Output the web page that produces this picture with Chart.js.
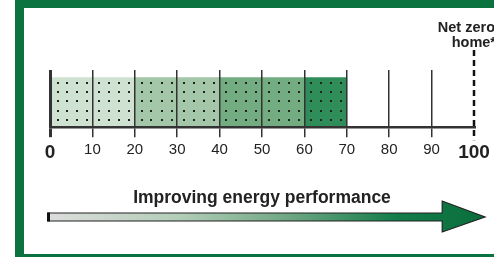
<!DOCTYPE html>
<html>
<head>
<meta charset="utf-8">
<script src="https://cdn.jsdelivr.net/npm/chart.js@4/dist/chart.umd.min.js"></script>
<style>
    html, body { margin: 0; padding: 0; background: #fff; }
    #page { position: relative; width: 494px; height: 259px; overflow: hidden; }
    #frame {
        position: absolute; left: 15px; top: 0; width: 520px; height: 246px;
        border-top: 8px solid #0b7340; border-left: 9px solid #0b7340; border-bottom: 3px solid #0b7340;
        background: #fff;
    }
    #wrap { position: absolute; left: 0; top: 0; width: 494px; height: 259px; }
</style>
</head>
<body>
<div id="page">
    <div id="frame"></div>
    <div id="wrap"><canvas id="ratingChart"></canvas></div>
</div>
<script>
// rating bands (score ranges) and their fill
const bandLabels = ['0-10', '10-20', '20-30', '30-40', '40-50', '50-60', '60-70'];
const bandStart = [0, 10, 20, 30, 40, 50, 60];
const bandEnd = [10, 20, 30, 40, 50, 60, 70];
const bandColors = ['#cfe1d1', '#cfe1d1', '#a3c7a8', '#a3c7a8', '#73ac80', '#73ac80', '#2f8d5a'];

const tickValues = [0, 10, 20, 30, 40, 50, 60, 70, 80, 90, 100];
const netZeroValue = 100;
const netZeroLabel = ['Net zero', 'home*'];
const arrowLabel = 'Improving energy performance';

const FONT = '"Liberation Sans", Arial, Helvetica, sans-serif';

// dotted texture + net zero marker + arrow
const extras = {
    id: 'extras',
    afterDatasetsDraw(chart) {
        const ctx = chart.ctx;
        const meta = chart.getDatasetMeta(0);
        ctx.save();
        ctx.fillStyle = '#222';
        meta.data.forEach(bar => {
            const p = bar.getProps(['x', 'base', 'y', 'height'], true);
            const left = Math.min(p.x, p.base), w = Math.abs(p.x - p.base);
            const top = p.y - p.height / 2;
            [0.16, 0.39, 0.63, 0.87].forEach(fx => {
                for (let r = 0; r < 5; r++) {
                    ctx.fillRect(Math.round(left + fx * w) - 1, Math.round(top + 4 + r * 9.3), 2, 2);
                }
            });
        });
        ctx.restore();
    },
    afterDraw(chart) {
        const ctx = chart.ctx;
        const xs = chart.scales.x;
        const area = chart.chartArea;
        ctx.save();

        // net zero dashed line
        const xn = xs.getPixelForValue(netZeroValue);
        ctx.strokeStyle = '#111';
        ctx.lineWidth = 2.5;
        ctx.setLineDash([6, 4]);
        ctx.beginPath();
        ctx.moveTo(xn, 50);
        ctx.lineTo(xn, area.bottom + 13);
        ctx.stroke();
        ctx.setLineDash([]);

        ctx.fillStyle = '#222';
        ctx.font = 'bold 14.5px ' + FONT;
        ctx.textAlign = 'right';
        ctx.textBaseline = 'alphabetic';
        ctx.fillText(netZeroLabel[0], 495, 32);
        ctx.fillText(netZeroLabel[1], 496, 47);

        // arrow caption
        ctx.textAlign = 'center';
        ctx.font = 'bold 17.5px ' + FONT;
        ctx.fillText(arrowLabel, 262, 202.5);

        // arrow
        const x0 = xs.getPixelForValue(0) - 2;
        const xh = xs.getPixelForValue(92.5);
        const xt = xs.getPixelForValue(100) + 11;
        const cy = 217;
        const g = ctx.createLinearGradient(x0, 0, xt, 0);
        g.addColorStop(0, '#dcdddc');
        g.addColorStop(0.3, '#b3cdb8');
        g.addColorStop(0.55, '#6fa783');
        g.addColorStop(0.8, '#127c4a');
        g.addColorStop(1, '#0a6e3b');
        ctx.beginPath();
        ctx.moveTo(x0, cy - 4);
        ctx.lineTo(xh, cy - 4);
        ctx.lineTo(xh, cy - 16);
        ctx.lineTo(xt, cy);
        ctx.lineTo(xh, cy + 15);
        ctx.lineTo(xh, cy + 4);
        ctx.lineTo(x0, cy + 4);
        ctx.closePath();
        ctx.fillStyle = g;
        ctx.fill();
        ctx.strokeStyle = '#222';
        ctx.lineWidth = 1.2;
        ctx.stroke();
        ctx.fillStyle = '#111';
        ctx.fillRect(x0 - 1, cy - 4.5, 3, 9);
        ctx.restore();
    }
};

new Chart(document.getElementById('ratingChart'), {
    type: 'bar',
    data: {
        labels: bandLabels,
        datasets: [{
            label: 'Rating',
            data: bandStart.map((s, i) => ({ x: [s, bandEnd[i]], y: 0.5 })),
            backgroundColor: bandColors,
            borderWidth: 0,
            barThickness: 48,
        }],
    },
    options: {
        indexAxis: 'y',
        responsive: true,
        maintainAspectRatio: false,
        animation: false,
        layout: {
            padding: { left: 50, right: 20, top: 70, bottom: 91 }
        },
        plugins: {
            legend: { display: false },
            tooltip: { enabled: false },
        },
        scales: {
            y: {
                type: 'linear',
                min: 0,
                max: 1.1875,
                display: false,
            },
            x: {
                type: 'linear',
                min: 0,
                max: 100,
                afterBuildTicks: axis => { axis.ticks = tickValues.map(v => ({ value: v })); },
                border: { display: true, color: '#333', width: 2.5, z: 2 },
                grid: {
                    z: 1,
                    drawOnChartArea: true,
                    drawTicks: true,
                    tickLength: 10,
                    color: c => c.tick && c.tick.value === netZeroValue ? 'rgba(0,0,0,0)' : '#333',
                    lineWidth: c => c.tick && c.tick.value === 0 ? 3 : 1.5,
                },
                ticks: {
                    padding: 4,
                    color: '#222',
                    maxRotation: 0,
                    autoSkip: false,
                    font: c => (c.tick && (c.tick.value === 0 || c.tick.value === 100))
                        ? { family: FONT, size: 19, weight: 'bold' }
                        : { family: FONT, size: 15 },
                },
            },
        },
    },
    plugins: [extras],
});
</script>
</body>
</html>
